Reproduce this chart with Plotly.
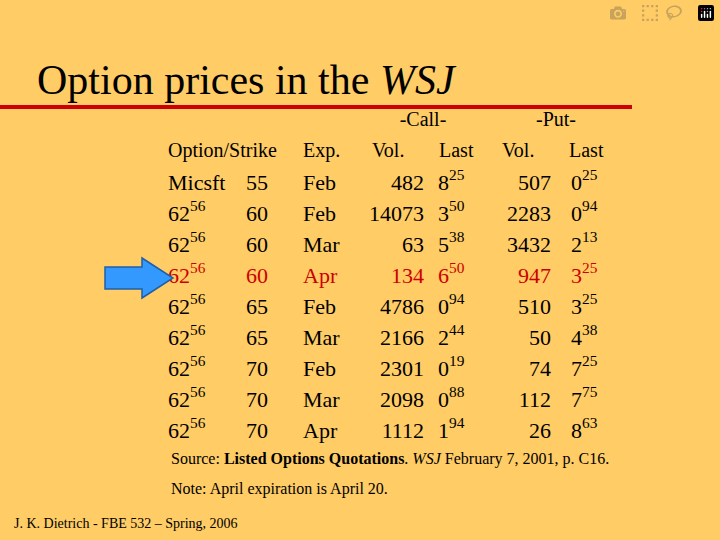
import plotly.graph_objects as go

# table data
option = ["Micsft", "62<sup>56</sup>", "62<sup>56</sup>", "62<sup>56</sup>", "62<sup>56</sup>",
          "62<sup>56</sup>", "62<sup>56</sup>", "62<sup>56</sup>", "62<sup>56</sup>"]
strike = [55, 60, 60, 60, 65, 65, 70, 70, 70]
expiry = ["Feb", "Feb", "Mar", "Apr", "Feb", "Mar", "Feb", "Mar", "Apr"]
call_vol = [482, 14073, 63, 134, 4786, 2166, 2301, 2098, 1112]
call_last = [("8", "25"), ("3", "50"), ("5", "38"), ("6", "50"), ("0", "94"),
             ("2", "44"), ("0", "19"), ("0", "88"), ("1", "94")]
put_vol = [507, 2283, 3432, 947, 510, 50, 74, 112, 26]
put_last = [("0", "25"), ("0", "94"), ("2", "13"), ("3", "25"), ("3", "25"),
            ("4", "38"), ("7", "25"), ("7", "75"), ("8", "63")]
headers = ["Option/Strike", "Exp.", "Vol.", "Last", "Vol.", "Last"]
highlight_row = 3

BG = "#FFCC66"
RED = "#CC0000"
FONT = "Liberation Serif"

row_y = [184 + 31 * i for i in range(len(strike))]
colors = [RED if i == highlight_row else "black" for i in range(len(strike))]

fig = go.Figure()


def col(x, texts, pos):
    fig.add_trace(go.Scatter(
        x=[x] * len(texts), y=row_y, mode="text", text=texts,
        textposition=pos, hoverinfo="skip",
        textfont=dict(family=FONT, size=22, color=colors)))


def frac(pairs):
    return [f"{w}<sup>{f}</sup>" for w, f in pairs]


col(168, option, "middle right")
col(246, [str(s) for s in strike], "middle right")
col(303, expiry, "middle right")
col(424, [str(v) for v in call_vol], "middle left")
col(438, frac(call_last), "middle right")
col(551, [str(v) for v in put_vol], "middle left")
col(571, frac(put_last), "middle right")

# header rows
hx = [168, 303, 372, 439, 502, 569]
fig.add_trace(go.Scatter(
    x=hx, y=[152] * len(hx), mode="text", text=headers, textposition="middle right",
    hoverinfo="skip", textfont=dict(family=FONT, size=20, color="black")))
fig.add_trace(go.Scatter(
    x=[423, 556], y=[121, 121], mode="text", text=["-Call-", "-Put-"],
    textposition="middle center", hoverinfo="skip",
    textfont=dict(family=FONT, size=20, color="black")))

fig.add_annotation(x=35, y=80, xref="x", yref="y", xanchor="left", yanchor="middle",
                   text="Option prices in the <i>WSJ</i>", showarrow=False,
                   font=dict(family=FONT, size=42, color="black"))
fig.add_annotation(x=169, y=459, xref="x", yref="y", xanchor="left", yanchor="middle",
                   text="Source: <b>Listed Options Quotations</b>. <i>WSJ</i> February 7, 2001, p. C16.",
                   showarrow=False, font=dict(family=FONT, size=16, color="black"))
fig.add_annotation(x=169, y=489, xref="x", yref="y", xanchor="left", yanchor="middle",
                   text="Note: April expiration is April 20.",
                   showarrow=False, font=dict(family=FONT, size=16, color="black"))
fig.add_annotation(x=12, y=523, xref="x", yref="y", xanchor="left", yanchor="middle",
                   text="J. K. Dietrich - FBE 532 \u2013 Spring, 2006",
                   showarrow=False, font=dict(family=FONT, size=14, color="black"))

# red rule under the title and blue arrow
fig.add_shape(type="line", x0=0, x1=632, y0=107, y1=107, xref="x", yref="y",
              line=dict(color=RED, width=4))
fig.add_shape(type="path", xref="x", yref="y",
              path="M 105 267 L 142 267 L 142 258 L 173 278 L 142 298 L 142 289 L 105 289 Z",
              fillcolor="#3399FF", line=dict(color="#1F5FA8", width=1.5))

fig.update_layout(
    width=720, height=540, margin=dict(l=0, r=0, t=0, b=0),
    paper_bgcolor=BG, plot_bgcolor=BG, showlegend=False,
    xaxis=dict(range=[0, 720], visible=False, fixedrange=True),
    yaxis=dict(range=[540, 0], visible=False, fixedrange=True),
)

fig.write_html("out.html", post_script="document.body.style.margin='0';")
